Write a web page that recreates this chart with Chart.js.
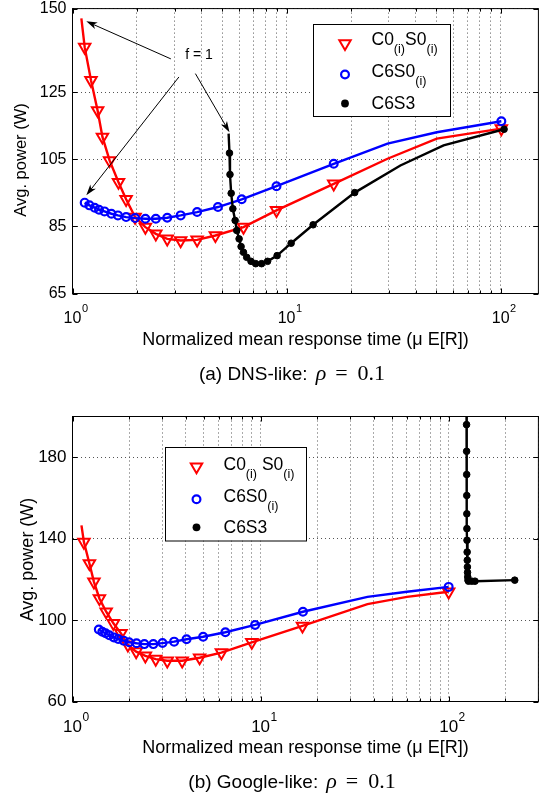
<!DOCTYPE html>
<html>
<head>
<meta charset="utf-8">
<script src="https://cdn.jsdelivr.net/npm/chart.js@4.4.1/dist/chart.umd.min.js"></script>
<style>
  body { margin: 0; background: #fff; }
  canvas { position: absolute; left: 0; }
</style>
</head>
<body>
<canvas id="dnsChart" width="547" height="395" style="top:0"></canvas>
<canvas id="googleChart" width="547" height="399" style="top:395px"></canvas>
<script>
// (a) DNS-like, rho = 0.1 -- marker points, then extra points the line passes through
const dnsRedX = [1.14, 1.22, 1.31, 1.38, 1.49, 1.64, 1.78, 1.96, 2.19, 2.45, 2.77, 3.2, 3.82, 4.65, 6.29, 8.97, 16.6, 100.7];
const dnsRedY = [138.5, 128.6, 119.6, 111.7, 104.7, 98.2, 93.1, 87.8, 84.8, 82.8, 81.3, 80.8, 81.0, 82.3, 84.8, 89.8, 97.7, 114.2];
const dnsRedLineX = [1.10, 29.6, 50.3];
const dnsRedLineY = [147.1, 105.2, 111.2];

const dnsBlueX = [1.14, 1.20, 1.27, 1.33, 1.41, 1.52, 1.63, 1.78, 1.96, 2.19, 2.45, 2.77, 3.2, 3.82, 4.78, 6.17, 8.97, 16.6, 100.7];
const dnsBlueY = [92.1, 91.3, 90.6, 90.0, 89.5, 88.8, 88.3, 87.8, 87.5, 87.3, 87.3, 87.6, 88.3, 89.3, 90.8, 93.1, 97.0, 103.7, 116.4];
const dnsBlueLineX = [29.6, 50.3];
const dnsBlueLineY = [109.7, 113.1];

const dnsBlackX = [5.41, 5.44, 5.51, 5.61, 5.75, 5.85, 6.0, 6.13, 6.29, 6.51, 6.82, 7.17, 7.64, 8.15, 9.03, 10.5, 13.3, 20.8, 103.7];
const dnsBlackY = [106.9, 100.5, 94.9, 90.3, 86.8, 83.8, 81.3, 79.0, 77.3, 75.8, 74.6, 73.9, 73.9, 74.6, 76.3, 80.0, 85.5, 95.1, 114.0];
const dnsBlackLineX = [5.36, 34.0, 54.1];
const dnsBlackLineY = [112.7, 103.2, 109.2];

const dnsPowerTicks = [65, 85, 105, 125, 150];

// "f = 1" note and its three arrows (data coordinates)
const fNoteAt = [3.9, 136.2];
const fArrowTailX = [2.88, 3.14, 3.75];
const fArrowTailY = [135.0, 129.6, 130.6];
const fArrowTipX = [1.16, 1.16, 5.41];
const fArrowTipY = [146.2, 94.3, 113.1];

// (b) Google-like, rho = 0.1
const gRedX = [1.15, 1.23, 1.30, 1.39, 1.51, 1.65, 1.81, 1.97, 2.18, 2.44, 2.77, 3.19, 3.83, 4.74, 6.19, 8.98, 16.7, 100];
const gRedY = [138.3, 127.8, 118.8, 110.6, 104.1, 98.4, 93.5, 87.8, 84.5, 82.4, 80.8, 80.0, 80.0, 81.5, 84.0, 89.1, 97.1, 113.9];
const gRedLineX = [1.116, 37, 60];
const gRedLineY = [146.5, 107.8, 111.4];

const gBlueX = [1.38, 1.44, 1.50, 1.57, 1.66, 1.75, 1.87, 2.0, 2.19, 2.41, 2.69, 3.01, 3.47, 4.04, 4.95, 6.5, 9.35, 16.8, 100];
const gBlueY = [95.4, 94.3, 93.5, 92.5, 91.5, 90.7, 89.9, 89.1, 88.6, 88.2, 88.2, 88.7, 89.4, 90.6, 91.8, 94.0, 97.6, 104.1, 116.3];
const gBlueLineX = [37, 60];
const gBlueLineY = [111.4, 113.9];

const gBlackX = [124.5, 124.6, 124.7, 124.8, 124.9, 125, 125.2, 125.4, 125.6, 125.8, 126, 126.3, 126.7, 127.5, 132.7, 138, 224.6];
const gBlackY = [196.0, 182.9, 171.5, 161.2, 152.2, 144.9, 139.2, 133.4, 129.4, 126.1, 123.4, 121.2, 119.6, 119.1, 119.1, 119.1, 119.6];
const gBlackLineX = [124.4];
const gBlackLineY = [215];

const gPowerTicks = [60, 100, 140, 180];

const timeDecades = [1, 10, 100];
const seriesNames = ['C0_{(i)}S0_{(i)}', 'C6S0_{(i)}', 'C6S3'];
const seriesNamesB = ['C0_{(i)} S0_{(i)}', 'C6S0_{(i)}', 'C6S3'];

const SANS = '"Liberation Sans", Arial, Helvetica, sans-serif';
const SERIF = '"Liberation Serif", "Times New Roman", serif';
const RED = '#ff0000', BLUE = '#0000ff', BLACK = '#000000';

function pts(xs, ys) {
  return xs.map((x, i) => ({x: x, y: ys[i]}));
}

function seriesSets(s) {
  const line = pts(s.mx.concat(s.lx), s.my.concat(s.ly)).sort((a, b) => a.x - b.x);
  const mark = {
    tri: {pointStyle: 'triangle', pointRotation: 180, pointRadius: 6.6, pointBorderWidth: 2, pointBackgroundColor: 'rgba(0,0,0,0)'},
    ring: {pointStyle: 'circle', pointRadius: 3.9, pointBorderWidth: 2.2, pointBackgroundColor: 'rgba(0,0,0,0)'},
    dot: {pointStyle: 'circle', pointRadius: 3.3, pointBorderWidth: 1, pointBackgroundColor: s.color}
  }[s.marker];
  return [
    Object.assign({data: pts(s.mx, s.my), showLine: false, pointBorderColor: s.color}, mark),
    {data: line, showLine: true, borderColor: s.color, borderWidth: 2.4, pointRadius: 0, tension: 0}
  ];
}

function logGrid(min, max) {
  const out = [];
  for (let k = Math.floor(Math.log10(min)); k <= Math.ceil(Math.log10(max)); k++) {
    for (let m = 1; m <= 9; m++) {
      const v = m * Math.pow(10, k);
      if (v >= min * 0.999 && v <= max * 1.001) out.push(v);
    }
  }
  return out;
}

function drawMarker(ctx, kind, x, y, color) {
  ctx.save();
  ctx.strokeStyle = color; ctx.fillStyle = color;
  ctx.beginPath();
  if (kind === 'tri') {
    const r = 6.6;
    ctx.lineWidth = 2;
    ctx.moveTo(x, y + r);
    ctx.lineTo(x - r * 0.866, y - r / 2);
    ctx.lineTo(x + r * 0.866, y - r / 2);
    ctx.closePath(); ctx.stroke();
  } else if (kind === 'ring') {
    ctx.lineWidth = 2.2;
    ctx.arc(x, y, 3.9, 0, Math.PI * 2); ctx.stroke();
  } else {
    ctx.arc(x, y, 3.9, 0, Math.PI * 2); ctx.fill();
  }
  ctx.restore();
}

function drawRich(ctx, label, x, y, size) {
  label.split(/(_\{[^}]*\})/).filter(Boolean).forEach(p => {
    const sub = p.startsWith('_{');
    const t = sub ? p.slice(2, -1) : p;
    ctx.font = (sub ? size * 0.72 : size) + 'px ' + SANS;
    ctx.fillText(t, x, sub ? y + 8 : y);
    x += ctx.measureText(t).width;
  });
}

const matlabAxes = {
  id: 'matlabAxes',
  afterDraw(chart, args, o) {
    const {ctx, chartArea: a} = chart;
    const x = chart.scales.x, y = chart.scales.y;
    ctx.save();
    ctx.strokeStyle = '#000';
    ctx.fillStyle = '#000';
    ctx.lineWidth = 1;

    // inward tick marks + frame
    ctx.beginPath();
    x.ticks.forEach(t => {
      const px = Math.round(x.getPixelForValue(t.value)) + 0.5;
      const dec = Math.abs(Math.log10(t.value) - Math.round(Math.log10(t.value))) < 1e-9;
      const len = dec ? 5 : 3;
      ctx.moveTo(px, a.bottom); ctx.lineTo(px, a.bottom - len);
      ctx.moveTo(px, a.top); ctx.lineTo(px, a.top + len);
    });
    o.yTicks.forEach(v => {
      const py = Math.round(y.getPixelForValue(v)) + 0.5;
      ctx.moveTo(a.left, py); ctx.lineTo(a.left + 5, py);
      ctx.moveTo(a.right, py); ctx.lineTo(a.right - 5, py);
    });
    ctx.stroke();
    ctx.strokeRect(a.left, a.top, a.right - a.left, a.bottom - a.top);

    // y tick labels
    ctx.font = o.tickSize + 'px ' + SANS;
    ctx.textAlign = 'right';
    ctx.textBaseline = 'middle';
    o.yTicks.forEach(v => ctx.fillText(String(v), a.left - 6, y.getPixelForValue(v)));

    // x tick labels 10^k
    ctx.textAlign = 'left';
    ctx.textBaseline = 'alphabetic';
    timeDecades.forEach(v => {
      const px = x.getPixelForValue(v);
      ctx.font = o.tickSize + 'px ' + SANS;
      const w = ctx.measureText('10').width;
      ctx.fillText('10', px - w / 2, a.bottom + o.tickSize + 13);
      ctx.font = Math.round(o.tickSize * 0.7) + 'px ' + SANS;
      ctx.fillText(String(Math.round(Math.log10(v))), px + w / 2 + 0.5, a.bottom + o.tickSize + 2);
    });

    // axis titles
    ctx.textAlign = 'center';
    ctx.font = '18px ' + SANS;
    ctx.fillText('Normalized mean response time (\u03bc E[R])', (a.left + a.right) / 2, a.bottom + o.xTitleDy);
    ctx.save();
    ctx.translate(o.yTitle[0], o.yTitle[1]);
    ctx.rotate(-Math.PI / 2);
    ctx.textBaseline = 'middle';
    ctx.font = o.yTitleSize + 'px ' + SANS;
    ctx.fillText('Avg. power (W)', 0, 0);
    ctx.restore();

    // caption "(a) DNS-like: rho = 0.1"
    const cy = a.bottom + 86;
    ctx.textAlign = 'left';
    ctx.font = '19px ' + SANS;
    const wPre = ctx.measureText(o.caption).width;
    ctx.font = 'italic 22px ' + SERIF;
    const wRho = ctx.measureText('\u03c1').width;
    ctx.font = '22px ' + SERIF;
    const wEq = ctx.measureText('=').width, wNum = ctx.measureText('0.1').width;
    const total = wPre + 8 + wRho + 9 + wEq + 10 + wNum;
    let cx = 292 - total / 2;
    ctx.font = '19px ' + SANS; ctx.fillText(o.caption, cx, cy); cx += wPre + 8;
    ctx.font = 'italic 22px ' + SERIF; ctx.fillText('\u03c1', cx, cy); cx += wRho + 9;
    ctx.font = '22px ' + SERIF; ctx.fillText('=', cx, cy); cx += wEq + 10;
    ctx.fillText('0.1', cx, cy);

    // legend
    const L = o.legend;
    ctx.fillStyle = '#fff';
    ctx.fillRect(L.box[0], L.box[1], L.box[2] - L.box[0], L.box[3] - L.box[1]);
    ctx.strokeStyle = '#000';
    ctx.strokeRect(L.box[0] + 0.5, L.box[1] + 0.5, L.box[2] - L.box[0], L.box[3] - L.box[1]);
    ctx.fillStyle = '#000';
    ctx.textAlign = 'left';
    ctx.textBaseline = 'alphabetic';
    L.names.forEach((name, i) => {
      drawMarker(ctx, L.markers[i], L.markerX, L.rowY[i], L.colors[i]);
      ctx.fillStyle = '#000';
      drawRich(ctx, name, L.textX, L.baseY[i], 17.5);
    });

    // annotation arrows
    if (o.note) {
      ctx.font = '14px ' + SANS;
      ctx.textAlign = 'center';
      ctx.textBaseline = 'middle';
      ctx.fillText(o.note.text, x.getPixelForValue(o.note.at[0]), y.getPixelForValue(o.note.at[1]));
      o.note.tailX.forEach((tx, i) => {
        const x0 = x.getPixelForValue(tx), y0 = y.getPixelForValue(o.note.tailY[i]);
        const x1 = x.getPixelForValue(o.note.tipX[i]), y1 = y.getPixelForValue(o.note.tipY[i]);
        const ang = Math.atan2(y1 - y0, x1 - x0);
        ctx.beginPath();
        ctx.moveTo(x0, y0); ctx.lineTo(x1 - 8 * Math.cos(ang), y1 - 8 * Math.sin(ang));
        ctx.stroke();
        ctx.beginPath();
        ctx.moveTo(x1, y1);
        ctx.lineTo(x1 - 11 * Math.cos(ang) + 3.5 * Math.sin(ang), y1 - 11 * Math.sin(ang) - 3.5 * Math.cos(ang));
        ctx.lineTo(x1 - 8 * Math.cos(ang), y1 - 8 * Math.sin(ang));
        ctx.lineTo(x1 - 11 * Math.cos(ang) - 3.5 * Math.sin(ang), y1 - 11 * Math.sin(ang) + 3.5 * Math.cos(ang));
        ctx.closePath();
        ctx.fill();
      });
    }
    ctx.restore();
  }
};

function makeChart(id, series, xMax, yMin, yMax, yTicks, pad, extra) {
  const datasets = [];
  series.slice().reverse().forEach(s => datasets.push(...seriesSets(s)));
  const gridOpts = {color: '#555555', lineWidth: 1, drawTicks: false};
  return new Chart(document.getElementById(id), {
    type: 'scatter',
    data: {datasets: datasets},
    options: {
      responsive: false,
      animation: false,
      events: [],
      devicePixelRatio: 1,
      layout: {padding: pad},
      scales: {
        x: {
          type: 'logarithmic', min: 1, max: xMax,
          afterBuildTicks: sc => { sc.ticks = logGrid(1, xMax).map(v => ({value: v})); },
          grid: gridOpts, border: {display: false, dash: [1, 3]}, ticks: {display: false}
        },
        y: {
          min: yMin, max: yMax,
          afterBuildTicks: sc => { sc.ticks = yTicks.map(v => ({value: v})); },
          grid: gridOpts, border: {display: false, dash: [1, 3]}, ticks: {display: false}
        }
      },
      plugins: {
        legend: {display: false},
        tooltip: {enabled: false},
        matlabAxes: Object.assign({yTicks: yTicks}, extra)
      }
    },
    plugins: [matlabAxes]
  });
}

const legendMarkers = ['tri', 'ring', 'dot'];
const legendColors = [RED, BLUE, BLACK];

makeChart('dnsChart', [
  {mx: dnsRedX, my: dnsRedY, lx: dnsRedLineX, ly: dnsRedLineY, color: RED, marker: 'tri'},
  {mx: dnsBlueX, my: dnsBlueY, lx: dnsBlueLineX, ly: dnsBlueLineY, color: BLUE, marker: 'ring'},
  {mx: dnsBlackX, my: dnsBlackY, lx: dnsBlackLineX, ly: dnsBlackLineY, color: BLACK, marker: 'dot'}
], 150, 65, 150, dnsPowerTicks,
  {left: 72.5, top: 8.5, right: 4.5, bottom: 101.5},
  {
    tickSize: 16, yTitleSize: 16.5, yTitle: [21, 160], xTitleDy: 51.5,
    caption: '(a) DNS-like:',
    legend: {box: [313, 24, 450, 116], markerX: 345, textX: 371.5, rowY: [43.5, 74.5, 103.5], baseY: [45, 76.5, 109],
      names: seriesNames, markers: legendMarkers, colors: legendColors},
    note: {text: 'f = 1', at: fNoteAt, tailX: fArrowTailX, tailY: fArrowTailY, tipX: fArrowTipX, tipY: fArrowTipY}
  });

makeChart('googleChart', [
  {mx: gRedX, my: gRedY, lx: gRedLineX, ly: gRedLineY, color: RED, marker: 'tri'},
  {mx: gBlueX, my: gBlueY, lx: gBlueLineX, ly: gBlueLineY, color: BLUE, marker: 'ring'},
  {mx: gBlackX, my: gBlackY, lx: gBlackLineX, ly: gBlackLineY, color: BLACK, marker: 'dot'}
], 300, 60, 200, gPowerTicks,
  {left: 72.5, top: 21.5, right: 4.5, bottom: 92.5},
  {
    tickSize: 17, yTitleSize: 18, yTitle: [28, 164.5], xTitleDy: 51,
    caption: '(b) Google-like:',
    legend: {box: [165, 52, 306, 145.5], markerX: 196.5, textX: 223.5, rowY: [71.7, 104.3, 132.3], baseY: [75, 106.7, 138.3],
      names: seriesNamesB, markers: legendMarkers, colors: legendColors}
  });
</script>
</body>
</html>
